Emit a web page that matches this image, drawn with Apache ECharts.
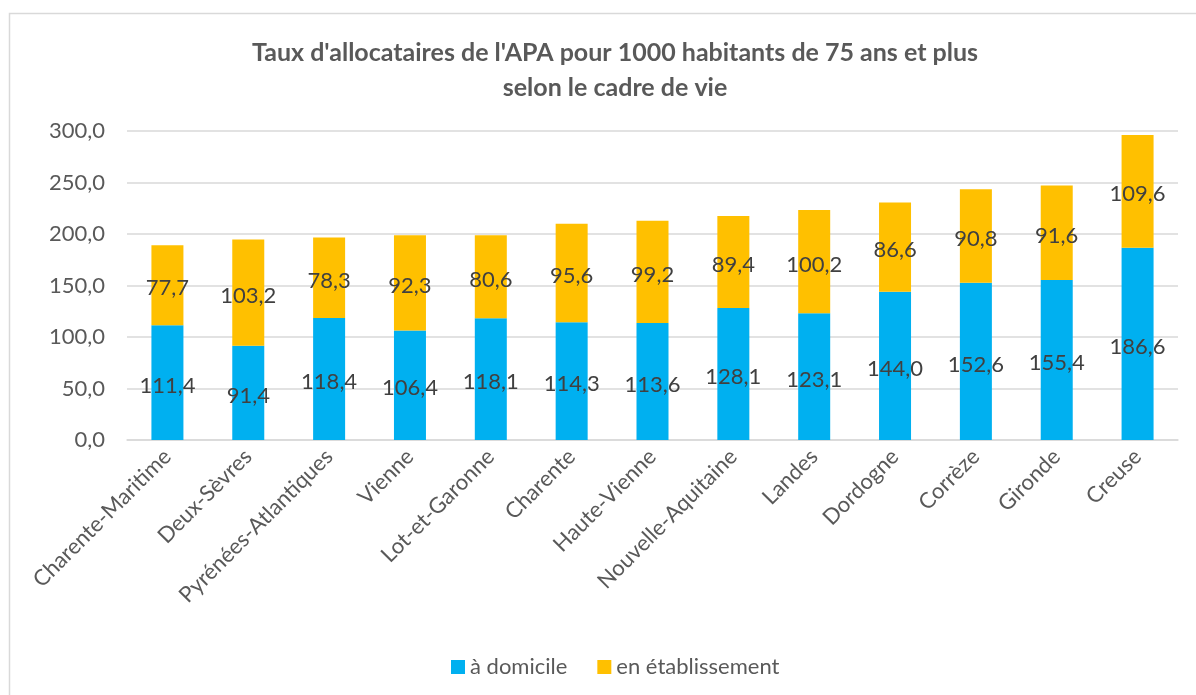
<!DOCTYPE html>
<html><head><meta charset="utf-8">
<script src="https://cdn.jsdelivr.net/npm/echarts@6/dist/echarts.min.js"></script>
<style>html,body{margin:0;padding:0;background:#fff}#c{width:1196px;height:695px}</style>
</head><body><div id="c"></div>
<script>
const categories = ["Charente-Maritime","Deux-Sèvres","Pyrénées-Atlantiques","Vienne","Lot-et-Garonne","Charente","Haute-Vienne","Nouvelle-Aquitaine","Landes","Dordogne","Corrèze","Gironde","Creuse"];
const domicile = [111.4, 91.4, 118.4, 106.4, 118.1, 114.3, 113.6, 128.1, 123.1, 144.0, 152.6, 155.4, 186.6];
const etablissement = [77.7, 103.2, 78.3, 92.3, 80.6, 95.6, 99.2, 89.4, 100.2, 86.6, 90.8, 91.6, 109.6];
const seriesNames = ["à domicile", "en établissement"];
const titleLines = ["Taux d'allocataires de l'APA pour 1000 habitants de 75 ans et plus", "selon le cadre de vie"];

const FONT = "Lato, 'Open Sans', sans-serif";
const fmt = v => v.toFixed(1).replace('.', ',');
const chart = echarts.init(document.getElementById('c'), null, {renderer: 'canvas'});
chart.setOption({
  animation: false,
  backgroundColor: '#fff',
  graphic: [{type: 'rect', shape: {x: 9.5, y: 13.5, width: 1200, height: 700}, style: {fill: 'none', stroke: '#d9d9d9', lineWidth: 1.5}, z: -1}],
  title: {
    text: titleLines.join('\n'),
    left: 610, top: 30, textAlign: 'center',
    textStyle: {fontFamily: FONT, fontSize: 25, fontWeight: 'bold', color: '#595959', lineHeight: 35, align: 'center'}
  },
  legend: {
    data: seriesNames, top: 651, left: 446,
    itemWidth: 14, itemHeight: 14, itemGap: 30, icon: 'rect',
    textStyle: {fontFamily: FONT, fontSize: 22, color: '#595959'}
  },
  grid: {left: 127, right: 18, top: 131, bottom: 255, containLabel: false},
  xAxis: {
    type: 'category', data: categories,
    axisLine: {lineStyle: {color: '#d9d9d9', width: 1.5}},
    axisTick: {show: false},
    axisLabel: {rotate: 45, interval: 0, margin: 13, fontFamily: FONT, fontSize: 22, color: '#595959'}
  },
  yAxis: {
    type: 'value', min: 0, max: 300, interval: 50,
    axisLine: {show: false}, axisTick: {show: false},
    splitLine: {lineStyle: {color: '#d9d9d9', width: 1.5}},
    axisLabel: {formatter: fmt, margin: 22, fontFamily: FONT, fontSize: 22, color: '#595959'}
  },
  series: [
    {name: seriesNames[0], type: 'bar', stack: 's', data: domicile, barWidth: 32,
     itemStyle: {color: '#00B0F0'},
     label: {show: true, position: 'inside', offset: [0, 3], formatter: p => fmt(p.value), fontFamily: FONT, fontSize: 22, color: '#404040'}},
    {name: seriesNames[1], type: 'bar', stack: 's', data: etablissement, barWidth: 32,
     itemStyle: {color: '#FFC000'},
     label: {show: true, position: 'inside', offset: [0, 3], formatter: p => fmt(p.value), fontFamily: FONT, fontSize: 22, color: '#404040'}}
  ]
});
</script></body></html>
